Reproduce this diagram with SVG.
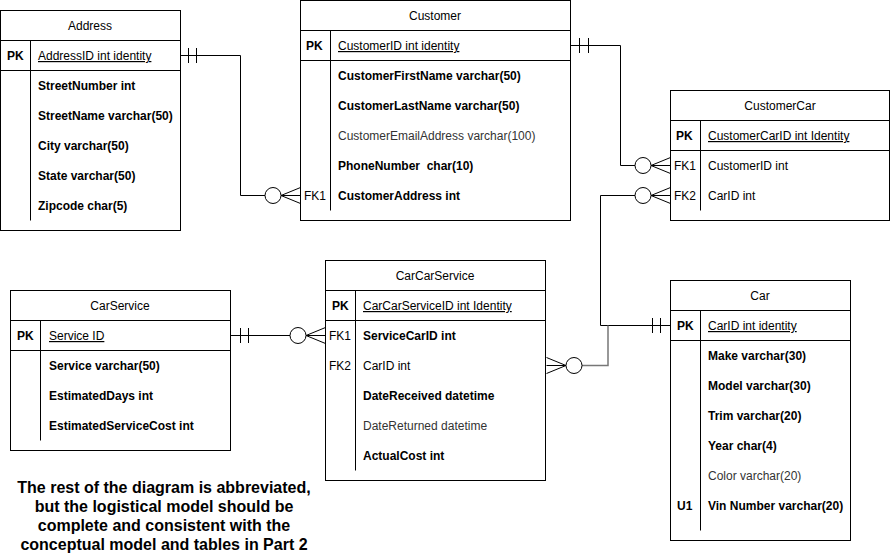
<svg xmlns="http://www.w3.org/2000/svg" width="891" height="554" viewBox="0 0 891 554">
<style>
  text { font-family: "Liberation Sans", Arial, sans-serif; font-size: 12px; fill: #000; }
  .t { text-anchor: middle; }
  .b { font-weight: bold; }
  .u { text-decoration: underline; }
  .g { fill: #333; }
  .box { fill: #fff; stroke: #000; stroke-width: 1; }
  .ln { stroke: #000; stroke-width: 1; fill: none; }
  .c { stroke: #000; stroke-width: 1; fill: none; }
  .gr { stroke: #777; stroke-width: 1.5; fill: none; }
  .note { font-size: 16px; font-weight: bold; text-anchor: middle; }
</style>
<rect width="891" height="554" fill="#fff"/>

<g id="connectors">
  <!-- Address PK -> Customer FK1 -->
  <path class="c" d="M180.5,55.5 H240.5 V195.5 H265"/>
  <path class="c" d="M188.5,48 V63 M196.5,48 V63"/>
  <circle class="c" cx="273" cy="195.5" r="8" fill="#fff"/>
  <path class="c" d="M300.5,187.5 L281,195.5 L300.5,203.5 M281,195.5 H300.5"/>

  <!-- Customer PK -> CustomerCar FK1 -->
  <path class="c" d="M570.5,45.5 H620.5 V165.5 H635"/>
  <path class="c" d="M579.5,38 V53 M588.5,38 V53"/>
  <circle class="c" cx="643" cy="165.5" r="8" fill="#fff"/>
  <path class="c" d="M670.5,157.5 L651,165.5 L670.5,173.5 M651,165.5 H670.5"/>

  <!-- Car PK -> CustomerCar FK2 -->
  <path class="c" d="M670.5,325.5 H600.5 V195.5 H635"/>
  <path class="c" d="M652.5,318 V333 M660.5,318 V333"/>
  <circle class="c" cx="643" cy="195.5" r="8" fill="#fff"/>
  <path class="c" d="M670.5,187.5 L651,195.5 L670.5,203.5 M651,195.5 H670.5"/>

  <!-- Car PK -> CarCarService FK2 -->
  <path class="gr" d="M608,325.5 V365.5 H582"/>
  <circle class="c" cx="574" cy="365.5" r="8" fill="#fff"/>
  <path class="c" d="M546.5,357.5 L566,365.5 L546.5,373.5 M546.5,365.5 H566"/>

  <!-- CarService PK -> CarCarService FK1 -->
  <path class="c" d="M230.5,335.5 H290"/>
  <path class="c" d="M240.5,328 V343 M248.5,328 V343"/>
  <circle class="c" cx="298" cy="335.5" r="8" fill="#fff"/>
  <path class="c" d="M325.5,327.5 L306,335.5 L325.5,343.5 M306,335.5 H325.5"/>
</g>

<g id="Address">
  <rect class="box" x="0.5" y="10.5" width="180" height="220"/>
  <path class="ln" d="M0.5,40.5 H180.5 M0.5,70.5 H180.5 M30.5,40.5 V220.5"/>
  <text class="t" x="90" y="30">Address</text>
  <text class="b" x="7" y="60">PK</text>
  <text class="u" x="38" y="60">AddressID int identity</text>
  <text class="b" x="38" y="90">StreetNumber int</text>
  <text class="b" x="38" y="120">StreetName varchar(50)</text>
  <text class="b" x="38" y="150">City varchar(50)</text>
  <text class="b" x="38" y="180">State varchar(50)</text>
  <text class="b" x="38" y="210">Zipcode char(5)</text>
</g>

<g id="Customer">
  <rect class="box" x="300.5" y="0.5" width="270" height="220"/>
  <path class="ln" d="M300.5,30.5 H570.5 M300.5,60.5 H570.5 M330.5,30.5 V210.5"/>
  <text class="t" x="435" y="20">Customer</text>
  <text class="b" x="306" y="50">PK</text>
  <text class="u" x="338" y="50">CustomerID int identity</text>
  <text class="b" x="338" y="80">CustomerFirstName varchar(50)</text>
  <text class="b" x="338" y="110">CustomerLastName varchar(50)</text>
  <text class="g" x="338" y="140">CustomerEmailAddress varchar(100)</text>
  <text class="b" x="338" y="170" xml:space="preserve">PhoneNumber  char(10)</text>
  <text x="304" y="200">FK1</text>
  <text class="b" x="338" y="200">CustomerAddress int</text>
</g>

<g id="CustomerCar">
  <rect class="box" x="670.5" y="90.5" width="219" height="130"/>
  <path class="ln" d="M670.5,120.5 H889.5 M670.5,150.5 H889.5 M700.5,120.5 V210.5"/>
  <text class="t" x="780" y="110">CustomerCar</text>
  <text class="b" x="676" y="140">PK</text>
  <text class="u" x="708" y="140">CustomerCarID int Identity</text>
  <text x="674" y="170">FK1</text>
  <text x="708" y="170">CustomerID int</text>
  <text x="674" y="200">FK2</text>
  <text x="708" y="200">CarID int</text>
</g>

<g id="CarService">
  <rect class="box" x="10.5" y="290.5" width="220" height="160"/>
  <path class="ln" d="M10.5,320.5 H230.5 M10.5,350.5 H230.5 M40.5,320.5 V440.5"/>
  <text class="t" x="120" y="310">CarService</text>
  <text class="b" x="17" y="340">PK</text>
  <text class="u" x="49" y="340">Service ID</text>
  <text class="b" x="49" y="370">Service varchar(50)</text>
  <text class="b" x="49" y="400">EstimatedDays int</text>
  <text class="b" x="49" y="430">EstimatedServiceCost int</text>
</g>

<g id="CarCarService">
  <rect class="box" x="325.5" y="260.5" width="220" height="220"/>
  <path class="ln" d="M325.5,290.5 H545.5 M325.5,320.5 H545.5 M355.5,290.5 V470.5"/>
  <text class="t" x="435" y="280">CarCarService</text>
  <text class="b" x="332" y="310">PK</text>
  <text class="u" x="363" y="310">CarCarServiceID int Identity</text>
  <text x="329" y="340">FK1</text>
  <text class="b" x="363" y="340">ServiceCarID int</text>
  <text x="329" y="370">FK2</text>
  <text x="363" y="370">CarID int</text>
  <text class="b" x="363" y="400">DateReceived datetime</text>
  <text class="g" x="363" y="430">DateReturned datetime</text>
  <text class="b" x="363" y="460">ActualCost int</text>
</g>

<g id="Car">
  <rect class="box" x="670.5" y="280.5" width="180" height="260"/>
  <path class="ln" d="M670.5,310.5 H850.5 M670.5,340.5 H850.5 M700.5,310.5 V530.5"/>
  <text class="t" x="760" y="300">Car</text>
  <text class="b" x="677" y="330">PK</text>
  <text class="u" x="708" y="330">CarID int identity</text>
  <text class="b" x="708" y="360">Make varchar(30)</text>
  <text class="b" x="708" y="390">Model varchar(30)</text>
  <text class="b" x="708" y="420">Trim varchar(20)</text>
  <text class="b" x="708" y="450">Year char(4)</text>
  <text class="g" x="708" y="480">Color varchar(20)</text>
  <text class="b" x="677" y="510">U1</text>
  <text class="b" x="708" y="510">Vin Number varchar(20)</text>
</g>

<g id="note">
  <text class="note" x="164" y="493">The rest of the diagram is abbreviated,</text>
  <text class="note" x="164" y="512">but the logistical model should be</text>
  <text class="note" x="164" y="531">complete and consistent with the</text>
  <text class="note" x="164" y="550">conceptual model and tables in Part 2</text>
</g>
</svg>
